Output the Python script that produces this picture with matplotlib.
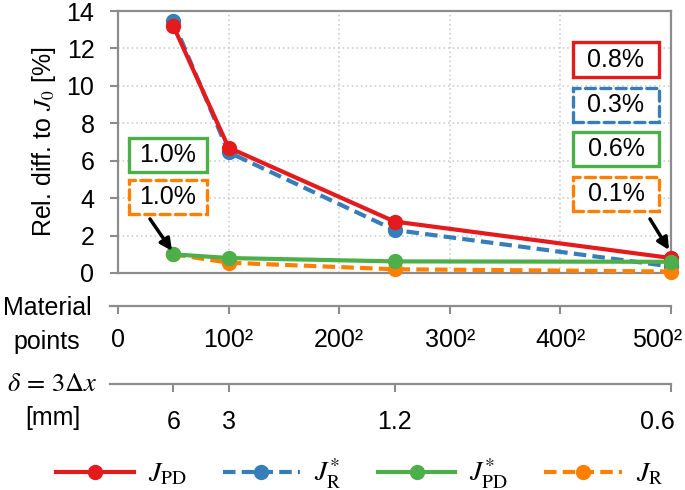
import numpy as np
import matplotlib
matplotlib.use('Agg')
import matplotlib.pyplot as plt
import matplotlib.transforms as mtransforms
from matplotlib.patches import Rectangle

plt.rcParams['font.family'] = ['Liberation Sans', 'DejaVu Sans']
plt.rcParams['mathtext.fontset'] = 'stix'

# points per side (x positions), delta in mm
points = [50, 100, 250, 500]
delta_labels = ['6', '3', '1.2', '0.6']

j_pd = [13.2, 6.7, 2.75, 0.8]
j_r_star = [13.45, 6.45, 2.3, 0.35]
j_pd_star = [1.0, 0.8, 0.62, 0.6]
j_r = [1.0, 0.55, 0.2, 0.08]

mp_ticks = [0, 100, 200, 300, 400, 500]
mp_labels = ['0', '100²', '200²', '300²', '400²', '500²']

left_boxes = ['1.0%', '1.0%']
right_boxes = ['0.8%', '0.3%', '0.6%', '0.1%']

RED = '#e41a1c'
BLUE = '#377eb8'
GREEN = '#4daf4a'
ORANGE = '#ff7f00'
GRAY = '#8c8c8c'
FS = 18

fig = plt.figure(figsize=(6.85, 4.9), dpi=100)
W, H = 685, 490

def px_axes(x0, y0, x1, y1):
    return fig.add_axes([x0 / W, 1 - y1 / H, (x1 - x0) / W, (y1 - y0) / H])

ax = px_axes(118, 11, 671, 273)
ax.set_xlim(0, 500)
ax.set_ylim(0, 14)
ax.set_yticks(range(0, 15, 2))
ax.set_xticks([100, 200, 300, 400])
ax.tick_params(axis='x', length=0, labelbottom=False)
ax.tick_params(axis='y', length=6, width=1.5, color=GRAY, pad=11, labelsize=FS)
ax.grid(True, linestyle=(0, (1, 2)), color='#c8c8c8', linewidth=1.1)
for s in ax.spines.values():
    s.set_color(GRAY)
    s.set_linewidth(1.6)
ax.set_ylabel('Rel. diff. to $J_0$ [%]', fontsize=FS, labelpad=6)

lw = 3.0
ms = 10
dash = (0, (3.0, 1.5))
ax.plot(points, j_r_star, color=BLUE, lw=lw, ls=dash, marker='o', ms=ms,
        label=r'$J_{\mathrm{R}}^{*}$', clip_on=False, zorder=3)
ax.plot(points, j_pd, color=RED, lw=lw, marker='o', ms=ms,
        label=r'$J_{\mathrm{PD}}$', clip_on=False, zorder=4)
ax.plot(points, j_r, color=ORANGE, lw=lw, ls=dash, marker='o', ms=ms,
        label=r'$J_{\mathrm{R}}$', clip_on=False, zorder=5)
ax.plot(points, j_pd_star, color=GREEN, lw=lw, marker='o', ms=ms,
        label=r'$J_{\mathrm{PD}}^{*}$', clip_on=False, zorder=6)

# annotation boxes (pixel placement converted to data units)
def box(cx, cy, w, h, text, color, dashed):
    x0 = (cx - w / 2 - 118) / 553 * 500
    y0 = (273 - (cy + h / 2)) / 262 * 14
    rect = Rectangle((x0, y0), w / 553 * 500, h / 262 * 14, fill=True,
                     facecolor='white', edgecolor=color, lw=2.4,
                     ls=(0, (3.0, 1.6)) if dashed else '-', zorder=7)
    if dashed:
        rect.set_capstyle('round')
    ax.add_patch(rect)
    ax.text((cx - 118) / 553 * 500, (273 - cy) / 262 * 14, text, fontsize=FS,
            ha='center', va='center', zorder=8)

box(168, 154.5, 78, 34, left_boxes[0], GREEN, False)
box(168, 196.5, 78, 34, left_boxes[1], ORANGE, True)
rcols = [RED, BLUE, GREEN, ORANGE]
rys = [59.5, 104.5, 149, 194]
for t, c, cy, d in zip(right_boxes, rcols, rys, [False, True, False, True]):
    box(616, cy, 86, 34, t, c, d)

arrow = dict(arrowstyle='-|>,head_length=0.7,head_width=0.35', color='black', lw=2.5, shrinkA=0, shrinkB=0)
ax.annotate('', xy=(48.8, 1.18), xytext=(28.9, 2.89), arrowprops=arrow, zorder=9)
ax.annotate('', xy=(498.2, 1.23), xytext=(481, 2.89), arrowprops=arrow, zorder=9)

# secondary axes: material points and delta
def bottom_axis(y, ticks, labels, pad):
    a = px_axes(110, y - 1, 671, y)
    a.set_xlim((110 - 118) / 553 * 500, 500)
    a.set_ylim(0, 1)
    a.set_yticks([])
    for k in ['top', 'left', 'right']:
        a.spines[k].set_visible(False)
    a.spines['bottom'].set_color(GRAY)
    a.spines['bottom'].set_linewidth(1.6)
    a.set_xticks(ticks)
    a.set_xticklabels(labels)
    a.tick_params(axis='x', length=6, width=1.5, color=GRAY, pad=pad, labelsize=FS)
    a.patch.set_visible(False)
    # last label would run off the right edge; nudge it left
    last = a.get_xticklabels()[-1]
    last.set_transform(last.get_transform() + mtransforms.ScaledTranslation(-14 / 100, 0, fig.dpi_scale_trans))
    return a

bottom_axis(306, mp_ticks, mp_labels, 10)
bottom_axis(384, points, delta_labels, 12.5)

fig.text(47 / W, 1 - 308 / H, 'Material', fontsize=FS, ha='center', va='center')
fig.text(47 / W, 1 - 342 / H, 'points', fontsize=FS, ha='center', va='center')
fig.text(52 / W, 1 - 384 / H, r'$\delta\,=\,3\Delta x$', fontsize=FS + 1, ha='center', va='center')
fig.text(53 / W, 1 - 418 / H, '[mm]', fontsize=FS, ha='center', va='center')

handles, labels = ax.get_legend_handles_labels()
order = [1, 0, 3, 2]
fig.legend([handles[i] for i in order], [labels[i] for i in order],
           loc='center', bbox_to_anchor=(0.525, 1 - 474 / H), ncol=4,
           frameon=False, fontsize=20, handlelength=2.8, columnspacing=1.3,
           handletextpad=0.5)

fig.savefig('out.png', dpi=100)
